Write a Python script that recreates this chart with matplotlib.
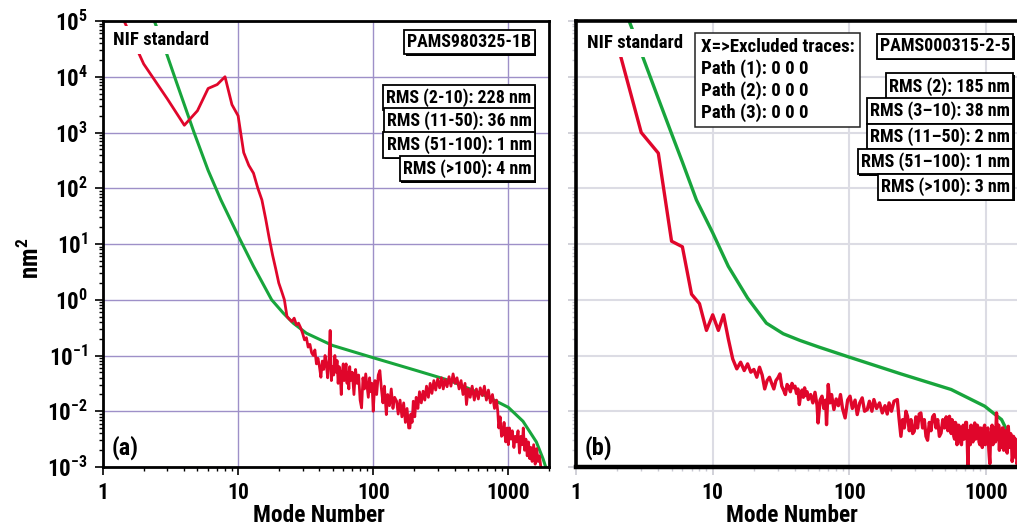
import numpy as np
import matplotlib
matplotlib.use('Agg')
import matplotlib.pyplot as plt
from matplotlib import font_manager as fm
from matplotlib import patheffects as pe
from matplotlib.textpath import TextToPath
from matplotlib.ticker import LogLocator, FuncFormatter, FixedLocator, NullFormatter

# ---------------- data (exponents are log10 of nm^2) ----------------
# Panel (a): measured spectrum (red)
red_a_modes = [1, 2, 3, 4, 5, 6, 7, 8, 9, 10, 11, 12, 13, 14, 15, 16, 17, 18, 19, 20, 21, 22,
               23, 24, 25, 26, 27, 28, 29, 30, 31, 32, 33, 34, 35, 36, 37, 38, 39, 40, 41, 42,
               43, 44, 45, 46, 47, 48, 49, 50, 51, 52, 53, 54, 55, 56, 57, 58, 59, 60, 61, 62,
               63, 64, 65, 66, 67, 68, 70, 72, 74, 76, 78, 80, 82, 84, 86, 88, 90, 92, 94, 96,
               98, 100, 103, 106, 109, 112, 115, 118, 121, 125, 128, 132, 136, 140, 144, 149,
               153, 158, 163, 168, 173, 178, 183, 187, 190, 194, 198, 203, 208, 214, 220, 227,
               234, 241, 248, 256, 264, 272, 281, 290, 300, 310, 320, 330, 340, 352, 364, 376,
               390, 403, 417, 432, 447, 462, 478, 490, 505, 522, 540, 560, 580, 600, 620, 642,
               665, 688, 712, 737, 763, 790, 818, 835, 850, 870, 890, 910, 930, 955, 980, 1000,
               1020, 1045, 1070, 1100, 1125, 1150, 1180, 1210, 1240, 1270, 1290, 1320, 1350,
               1380, 1410, 1440, 1470, 1500, 1540, 1580, 1620, 1660, 1700, 1750]
red_a_exp = [5.83, 4.23, 3.60, 3.13, 3.39, 3.79, 3.86, 4.00, 3.50, 3.30, 2.64, 2.41, 2.27, 2.0,
             1.79, 1.45, 1.1, 0.8, 0.55, 0.3, 0.15, 0.0,
             -0.30, -0.35, -0.39, -0.33, -0.45, -0.42, -0.5, -0.6, -0.72, -0.68, -0.85, -0.8,
             -0.95, -1.0, -0.9, -1.15, -1.05, -1.2, -1.39, -1.1,
             -1.25, -1.0, -1.15, -1.4, -1.1, -0.55, -1.45, -1.2, -1.35, -1.0, -1.3, -1.09, -1.5,
             -1.2, -1.35, -1.7, -1.3, -1.15, -1.45, -1.25,
             -1.15, -1.5, -1.3, -1.6, -1.2, -1.45, -1.3, -1.7, -1.25, -1.5, -1.35, -1.8, -1.94,
             -1.4, -1.6, -1.33, -1.55, -1.75, -1.4, -1.65,
             -1.5, -2.0, -1.45, -1.7, -1.35, -1.27, -1.6, -1.85, -1.55, -2.06, -1.7, -1.9, -1.6,
             -1.95, -1.75, -1.82,
             -2.05, -1.8, -2.1, -1.85, -2.2, -1.95, -2.3, -2.3, -2.05, -2.2, -1.82, -2.1, -1.75,
             -1.95, -1.65, -1.85,
             -1.64, -1.8, -1.55, -1.75, -1.5, -1.68, -1.45, -1.62, -1.42, -1.58, -1.4, -1.6,
             -1.43, -1.56, -1.38, -1.55,
             -1.33, -1.5, -1.4, -1.6, -1.45, -1.7, -1.5, -1.88, -1.6, -1.75, -1.55, -1.8, -1.6,
             -1.78, -1.58, -1.72,
             -1.55, -1.8, -1.62, -1.85, -1.7, -1.95, -1.8, -2.0, -2.3, -2.1, -2.45, -2.42, -2.2,
             -2.55, -2.3, -2.6,
             -2.3, -2.5, -2.35, -2.65, -2.45, -2.55, -2.35, -2.75, -2.45, -2.6, -2.3, -2.7, -2.5,
             -2.8, -2.55, -2.85, -2.65, -2.9, -2.6, -2.95, -2.67, -2.9, -2.8, -3.05]

# Panel (a): NIF standard (green)
nif_a_modes = [2, 2.37, 2.8, 3.5, 4.72, 6, 7.46, 10, 13, 17.7, 21.6, 25.6, 32, 50, 100, 209,
               369, 650, 1000, 1284, 1612, 1805, 1908]
nif_a_exp = [5.52, 5.03, 4.58, 3.9, 3.0, 2.32, 1.79, 1.15, 0.6, 0.0, -0.24, -0.42, -0.6, -0.82,
             -1.04, -1.27, -1.45, -1.70, -1.93, -2.18, -2.55, -2.85, -3.03]

# Panel (b): measured spectrum (red), low modes
red_b_modes_low = [2, 3, 4, 5, 6, 7, 8, 9, 10, 11, 12, 13, 14, 15, 16, 17, 18, 19, 20, 21, 22,
                   23, 24, 25, 26, 27, 28, 29, 30, 31, 32, 33, 34, 35, 36, 37, 38, 39, 40, 41,
                   42, 43, 44, 45, 46, 47, 48, 49, 50, 52, 54, 56, 58, 59, 61, 63, 65, 67, 68,
                   70, 72, 74, 77, 80, 83, 86, 89, 93, 97, 101, 105, 110, 114, 119, 124, 129,
                   135, 140, 146, 151, 158, 166, 174, 182, 189, 195, 203, 212, 224, 230, 238,
                   245, 252, 259, 266, 274, 282, 290, 298, 306, 315, 324, 333, 343, 353, 363,
                   373, 384, 395, 406, 417, 430, 442, 455, 468, 482, 496, 510, 525, 539]
red_b_exp_low = [4.6, 3.0, 2.63, 1.05, 0.95, 0.1, -0.07, -0.55, -0.27, -0.55, -0.27, -0.7,
                 -1.06, -1.24, -1.12, -1.27, -1.15, -1.3, -1.25, -1.39, -1.21,
                 -1.35, -1.6, -1.45, -1.39, -1.5, -1.6, -1.45, -1.4, -1.33, -1.55, -1.62, -1.7,
                 -1.52, -1.56, -1.65, -1.5, -1.58, -1.55, -1.68,
                 -1.6, -1.88, -1.7, -1.62, -1.75, -1.58, -1.72, -1.65, -1.79, -1.7, -1.85,
                 -1.66, -1.9, -2.21, -1.8, -1.73, -1.95, -1.8, -2.24,
                 -1.52, -1.85, -1.7, -1.97, -1.78, -1.9, -1.7, -1.95, -2.12, -1.8, -1.73, -1.95,
                 -1.8, -2.06, -1.85, -1.76, -2.0,
                 -1.97, -1.82, -2.0, -1.79, -1.95, -1.85, -2.03, -1.9, -2.05, -1.85, -2.0,
                 -1.82, -1.79, -2.1, -2.45,
                 -2.15, -2.3, -2.0, -2.09, -2.35, -2.15, -2.4, -2.36, -2.1, -2.3, -2.05, -2.03,
                 -2.3, -2.15, -2.45,
                 -2.52, -2.2, -2.35, -2.1, -2.06, -2.3, -2.15, -2.45, -2.39, -2.15, -2.3, -2.1,
                 -2.35, -2.09]
# Panel (b): measured spectrum (red), high modes (dense band)
red_b_modes_high = [555, 563, 571, 580, 588, 596, 605, 612, 620, 630, 640, 650, 660, 670, 680,
                    690, 700, 709, 718, 727, 736, 745, 755, 765, 775, 787, 800, 812, 825, 837,
                    850, 862, 875, 887, 900, 912, 925, 937, 950, 962, 975, 987, 1000, 1015,
                    1030, 1047, 1064, 1077, 1090, 1105, 1120, 1135, 1150, 1170, 1191, 1205,
                    1220, 1235, 1250, 1262, 1275, 1286, 1297, 1313, 1330, 1345, 1360, 1380,
                    1400, 1425, 1452, 1470, 1490, 1510, 1530, 1550, 1570, 1585, 1600, 1612,
                    1625, 1640, 1660, 1680, 1700, 1725, 1750, 1775, 1800]
red_b_exp_high = [-2.4, -2.15, -2.2, -2.45, -2.5, -2.2, -2.25, -2.6, -2.52, -2.25, -2.3, -2.55,
                  -2.6, -2.3, -2.25, -2.5, -2.45, -2.2, -2.2, -2.5, -3.0, -2.35, -2.4, -2.6,
                  -2.25, -2.45, -2.55, -2.3, -2.21, -2.5, -2.45, -2.25, -2.3, -2.55, -2.6,
                  -2.3, -2.35, -2.65, -2.52, -2.3, -2.25, -2.6, -2.55, -2.35, -2.3, -2.7,
                  -2.94, -2.4, -2.4, -2.25, -2.6, -2.5, -2.3, -2.55, -2.03, -2.5, -2.45, -2.25,
                  -2.7, -2.45, -2.35, -2.65, -2.52, -2.3, -2.3, -2.7, -2.6, -2.35, -2.4, -2.75,
                  -2.27, -2.5, -2.65, -2.4, -2.45, -2.9, -2.8, -2.45, -2.5, -2.75, -2.82, -2.5,
                  -2.55, -2.95, -2.9, -2.6, -2.6, -3.0, -3.0]

# Panel (b): NIF standard (green)
nif_b_modes = [2, 2.5, 3, 4, 5, 6, 7.6, 10, 13, 18, 24.7, 32.8, 43.5, 60, 100, 238, 555, 977,
               1297, 1538, 1722, 1850]
nif_b_exp = [5.58, 4.94, 4.43, 3.61, 2.98, 2.47, 1.79, 1.2, 0.6, 0.03, -0.42, -0.61, -0.73,
             -0.85, -1.03, -1.33, -1.61, -1.91, -2.15, -2.52, -2.76, -3.1]

x_ticks = [1, 10, 100, 1000]
y_ticks = [1e-3, 1e-2, 1e-1, 1e0, 1e1, 1e2, 1e3, 1e4, 1e5]
rms_a = ['RMS (2-10): 228 nm', 'RMS (11-50): 36 nm', 'RMS (51-100): 1 nm', 'RMS (>100): 4 nm']
rms_b = ['RMS (2): 185 nm', 'RMS (3\u201310): 38 nm', 'RMS (11\u201350): 2 nm',
         'RMS (51\u2013100): 1 nm', 'RMS (>100): 3 nm']
excluded_b = 'X=>Excluded traces:\nPath (1): 0 0 0\nPath (2): 0 0 0\nPath (3): 0 0 0'

assert len(red_a_modes) == len(red_a_exp)
assert len(red_b_modes_low) == len(red_b_exp_low)
assert len(red_b_modes_high) == len(red_b_exp_high)
assert len(nif_a_modes) == len(nif_a_exp) and len(nif_b_modes) == len(nif_b_exp)

# ---------------- fonts ----------------
def find_condensed_bold():
    tries = [dict(family='Roboto Condensed'), dict(family='Liberation Sans Narrow'),
             dict(family='Arial Narrow'), dict(family='Open Sans Condensed'),
             dict(family='DejaVu Sans', stretch='condensed'),
             dict(family='Roboto', stretch='condensed')]
    for t in tries:
        fp = fm.FontProperties(weight='bold', **t)
        try:
            path = fm.findfont(fp, fallback_to_default=False)
        except Exception:
            continue
        low = path.lower()
        if ('condensed' in low or 'narrow' in low) and 'bold' in low:
            return path
    return fm.findfont(fm.FontProperties(family='Liberation Sans', weight='bold'))

COND_PATH = find_condensed_bold()
COND_NAME = fm.FontProperties(fname=COND_PATH).get_name()
_t2p = TextToPath()

def fp_fit(s, target_px):
    base = fm.FontProperties(fname=COND_PATH, size=10)
    w, h, d = _t2p.get_text_width_height_descent(s, base, ismath=False)
    size = 10 * target_px / (w * 100 / 72)
    return fm.FontProperties(fname=COND_PATH, size=size)

plt.rcParams['font.family'] = [COND_NAME, 'DejaVu Sans']
plt.rcParams['font.weight'] = 'bold'
plt.rcParams['mathtext.fontset'] = 'custom'
plt.rcParams['mathtext.bf'] = COND_NAME + ':bold'
plt.rcParams['mathtext.rm'] = COND_NAME + ':bold'
plt.rcParams['mathtext.it'] = COND_NAME + ':bold'

RED = '#e0062b'
GREEN = '#18a53c'

fig = plt.figure(figsize=(10.17, 5.27), dpi=100)
axL = fig.add_axes([103 / 1017, 60 / 527, 446 / 1017, 446 / 527])
axR = fig.add_axes([576 / 1017, 60 / 527, 451.3 / 1017, 446 / 527])

for ax in (axL, axR):
    ax.set_xscale('log')
    ax.set_yscale('log')
    ax.set_xlim(1, 2000)
    ax.set_ylim(1e-3, 1e5)
    ax.xaxis.set_major_locator(FixedLocator(x_ticks))
    ax.xaxis.set_minor_locator(LogLocator(base=10, subs=np.arange(2, 10), numticks=20))
    ax.xaxis.set_minor_formatter(NullFormatter())
    ax.xaxis.set_major_formatter(FuncFormatter(lambda v, p: '%d' % round(v)))
    ax.yaxis.set_major_locator(FixedLocator(y_ticks))
    ax.yaxis.set_minor_locator(LogLocator(base=10, subs=np.arange(2, 10), numticks=20))
    ax.yaxis.set_minor_formatter(NullFormatter())
    ax.tick_params(which='major', direction='out', length=6, width=1.2, labelsize=15.5, pad=4.5)
    ax.tick_params(which='minor', direction='out', length=3, width=1.0)

# left panel
axL.yaxis.set_major_formatter(FuncFormatter(lambda v, p: r'$\mathbf{10^{%d}}$' % round(np.log10(v))))
axL.tick_params(axis='y', which='major', labelsize=16.5, pad=5)
axL.grid(True, which='major', color='#9e90c8', lw=1.0)
for s in axL.spines.values():
    s.set_linewidth(2.0)
axL.plot(nif_a_modes, np.power(10.0, nif_a_exp), color=GREEN, lw=2.2, zorder=2)
axL.plot(red_a_modes, np.power(10.0, red_a_exp), color=RED, lw=2.0, zorder=2.1)

# right panel
axR.tick_params(axis='y', which='both', labelleft=False, color='#c9c9d2')
axR.tick_params(axis='x', which='both', color='#c9c9d2')
axR.grid(True, which='major', color='#dcdce4', lw=1.5)
for k, s in axR.spines.items():
    s.set_linewidth(2.6)
axR.spines['bottom'].set_linewidth(3.2)
axR.plot(nif_b_modes, np.power(10.0, nif_b_exp), color=GREEN, lw=2.4, zorder=2)
axR.plot(red_b_modes_low + red_b_modes_high,
         np.power(10.0, red_b_exp_low + red_b_exp_high), color=RED, lw=2.4, zorder=2.1)

box = dict(boxstyle='square,pad=0.18', fc='white', ec='black', lw=1.3)
plain = dict(boxstyle='square,pad=0.25', fc='white', ec='none')
shadow = [pe.SimplePatchShadow(offset=(1.0, -1.0), shadow_rgbFace='black', alpha=1.0), pe.Normal()]

fp_box_a = fp_fit(rms_a[0], 145)
fp_box_b = fp_fit(rms_b[1], 140)
fp_excl = fp_fit('X=>Excluded traces:', 154)
fp_nif = fp_fit('NIF standard', 96)
fp_mode = fp_fit('Mode Number', 132)
fp_ab = fp_fit('(a)', 27)

def boxed(ax, x, y, s, fp):
    t = ax.text(x, y, s, transform=ax.transAxes, fontproperties=fp,
                ha='right', va='center', bbox=box, zorder=5)
    t.get_bbox_patch().set_path_effects(shadow)
    return t

# panel (a) annotations
axL.text(0.022, 0.957, 'NIF standard', transform=axL.transAxes, fontproperties=fp_nif,
         ha='left', va='center', bbox=plain, zorder=5)
boxed(axL, 0.961, 0.953, 'PAMS980325-1B', fp_box_a)
for t, yy in zip(rms_a, [0.8285, 0.776, 0.722, 0.669]):
    boxed(axL, 0.961, yy, t, fp_box_a)
axL.text(0.02, 0.044, '(a)', transform=axL.transAxes, fontproperties=fp_ab,
         ha='left', va='center')

# panel (b) annotations
axR.text(0.024, 0.951, 'NIF standard', transform=axR.transAxes, fontproperties=fp_nif,
         ha='left', va='center', bbox=plain, zorder=5)
axR.text(0.276, 0.961, excluded_b, transform=axR.transAxes, fontproperties=fp_excl,
         ha='left', va='top', linespacing=1.2,
         bbox=dict(boxstyle='square,pad=0.3', fc='white', ec='#222222', lw=1.1), zorder=5)
boxed(axR, 0.962, 0.943, 'PAMS000315-2-5', fp_box_b)
for t, yy in zip(rms_b, [0.854, 0.798, 0.741, 0.685, 0.628]):
    boxed(axR, 0.962, yy, t, fp_box_b)
axR.text(0.02, 0.044, '(b)', transform=axR.transAxes, fontproperties=fp_ab,
         ha='left', va='center')

# axis labels
fig.text(319 / 1017, 1 - 516 / 527, 'Mode Number', fontproperties=fp_mode,
         ha='center', va='center')
fig.text(792 / 1017, 1 - 516 / 527, 'Mode Number', fontproperties=fp_mode,
         ha='center', va='center')
fig.text(30 / 1017, 1 - 258 / 527, r'$\mathbf{nm^2}$', fontsize=18, rotation=90,
         ha='center', va='center')

fig.savefig('out.png', dpi=100)
